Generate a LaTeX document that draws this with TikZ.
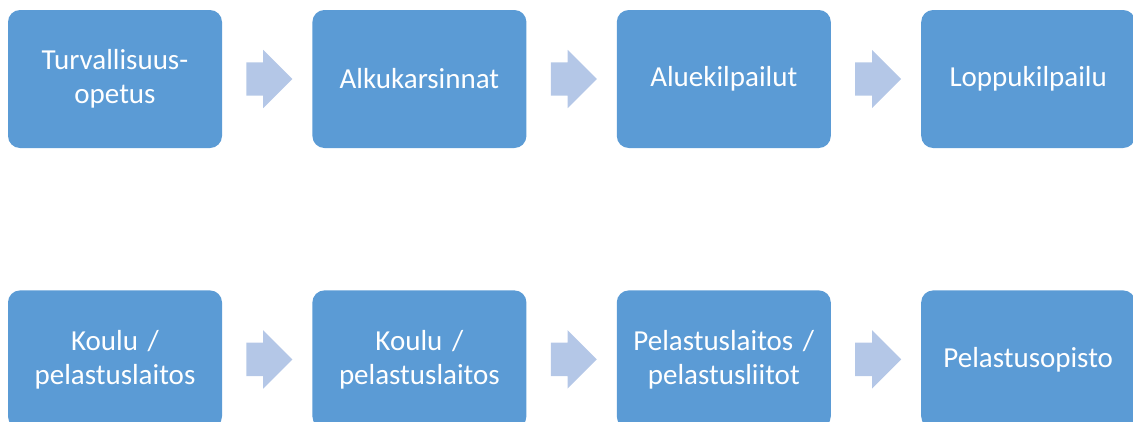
\documentclass[tikz,border=0pt]{standalone}
\usepackage{fontspec}
\setmainfont{Carlito}
\usetikzlibrary{positioning,shapes.arrows,calc}
\definecolor{stageblue}{HTML}{5B9BD5}
\definecolor{arrowblue}{HTML}{B4C7E7}
\tikzstyle{stage} = [rectangle, rounded corners=12pt, minimum width=214pt, minimum height=138pt, text centered, text width=200pt, fill=stageblue, text=white, font=\fontsize{29}{34}\selectfont, inner sep=0pt]
\tikzstyle{blockarrow} = [single arrow, fill=arrowblue, minimum height=46pt, inner xsep=0pt, inner ysep=16.5pt, single arrow head extend=12.5pt, single arrow head indent=0pt, anchor=tail]

\begin{document}
\begin{tikzpicture}[node distance=90pt]
 \useasboundingbox (0,0) rectangle (1133pt,-421pt);
 \clip (0,0) rectangle (1133pt,-421pt);

 % upper row
 \node (turva) [stage] at (115pt,-79pt) {Turvallisuus-\\opetus};
 \node (alku) [stage, right=of turva] {Alkukarsinnat};
 \node (alue) [stage, right=of alku] {Aluekilpailut};
 \node (loppu) [stage, right=of alue] {Loppukilpailu};

 % lower row
 \node (koulu1) [stage, below=142pt of turva] {Koulu /\\pelastuslaitos};
 \node (koulu2) [stage, right=of koulu1] {Koulu /\\pelastuslaitos};
 \node (laitos) [stage, right=of koulu2] {Pelastuslaitos /\\pelastusliitot};
 \node (opisto) [stage, right=of laitos] {Pelastusopisto};

 % arrows between stages
 \node (a1) [blockarrow] at ($(turva.east)+(24pt,0)$) {};
 \node (a2) [blockarrow] at ($(alku.east)+(24pt,0)$) {};
 \node (a3) [blockarrow] at ($(alue.east)+(24pt,0)$) {};
 \node (a4) [blockarrow] at ($(koulu1.east)+(24pt,0)$) {};
 \node (a5) [blockarrow] at ($(koulu2.east)+(24pt,0)$) {};
 \node (a6) [blockarrow] at ($(laitos.east)+(24pt,0)$) {};
\end{tikzpicture}
\end{document}
